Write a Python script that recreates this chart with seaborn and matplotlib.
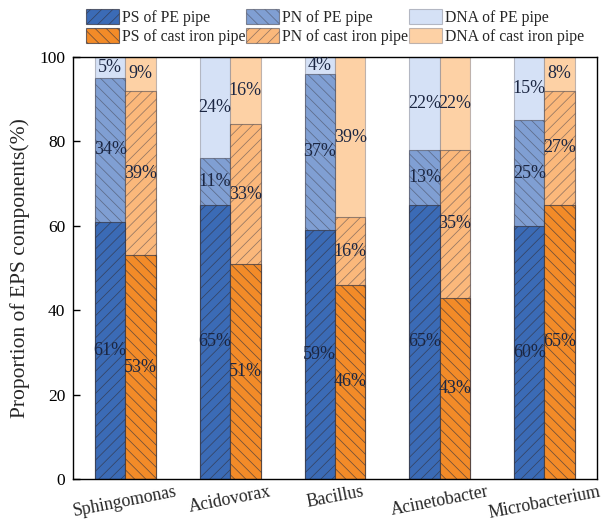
import numpy as np
import pandas as pd
import matplotlib
matplotlib.use("Agg")
import matplotlib.pyplot as plt
import seaborn as sns
from matplotlib.patches import Patch

genera = ["Sphingomonas", "Acidovorax", "Bacillus", "Acinetobacter", "Microbacterium"]
pipes = ["PE pipe", "cast iron pipe"]

ps_pe = [61, 65, 59, 65, 60]
pn_pe = [34, 11, 37, 13, 25]
dna_pe = [5, 24, 4, 22, 15]

ps_ci = [53, 51, 46, 43, 65]
pn_ci = [39, 33, 16, 35, 27]
dna_ci = [9, 16, 39, 22, 8]

yticks = [0, 20, 40, 60, 80, 100]

colors = {
    ("PS", "PE pipe"): "#3b6bb6",
    ("PN", "PE pipe"): "#809fd3",
    ("DNA", "PE pipe"): "#d5e1f6",
    ("PS", "cast iron pipe"): "#f38b28",
    ("PN", "cast iron pipe"): "#fbb87b",
    ("DNA", "cast iron pipe"): "#fdd1a5",
}
hatches = {
    ("PS", "PE pipe"): "///",
    ("PN", "PE pipe"): "\\\\\\",
    ("DNA", "PE pipe"): "",
    ("PS", "cast iron pipe"): "\\\\\\",
    ("PN", "cast iron pipe"): "///",
    ("DNA", "cast iron pipe"): "",
}
edges = {
    "PS": (0.2, 0.2, 0.25, 0.7),
    "PN": (0.25, 0.25, 0.3, 0.55),
    "DNA": (0.45, 0.45, 0.5, 0.45),
}

sns.set_style("ticks")
plt.rcParams["font.family"] = ["Liberation Serif", "DejaVu Serif"]
plt.rcParams["hatch.linewidth"] = 0.55

# long table
rows = []
for i, g in enumerate(genera):
    for pipe, ps, pn, dna in [("PE pipe", ps_pe, pn_pe, dna_pe),
                              ("cast iron pipe", ps_ci, pn_ci, dna_ci)]:
        rows.append(dict(genus=g, pipe=pipe, PS=ps[i], PN=pn[i], DNA=dna[i]))
df = pd.DataFrame(rows)
df["top_PS"] = df["PS"]
df["top_PN"] = df["PS"] + df["PN"]
df["top_DNA"] = df["PS"] + df["PN"] + df["DNA"]

fig = plt.figure(figsize=(6.09, 5.22), dpi=100)
ax = fig.add_axes([0.120, 0.0824, 0.860, 0.8085])

for comp in ["DNA", "PN", "PS"]:
    n0 = len(ax.containers)
    sns.barplot(data=df, x="genus", y="top_" + comp, hue="pipe",
                hue_order=pipes, order=genera,
                palette=[colors[(comp, p)] for p in pipes],
                width=0.58, saturation=1, legend=False, ax=ax,
                edgecolor=edges[comp], linewidth=0.8, errorbar=None)
    for cont, p in zip(ax.containers[n0:], pipes):
        for bar in cont:
            bar.set_hatch(hatches[(comp, p)])

# percentage labels
label_color = "#1b2642"
for ci, p in enumerate(pipes):
    sub = df[df["pipe"] == p].set_index("genus").loc[genera]
    for gi, g in enumerate(genera):
        xc = gi + (-0.145 if ci == 0 else 0.145)
        base = 0
        for comp in ["PS", "PN", "DNA"]:
            v = sub.loc[g, comp]
            top = min(base + v, 100)
            yc = (base + top) / 2
            ax.text(xc, yc, f"{v}%", ha="center", va="center",
                    fontsize=13, color=label_color)
            base += v

ax.set_xlim(-0.5, 4.5)
ax.set_ylim(0, 100)
ax.set_yticks(yticks)
ax.set_yticklabels([str(t) for t in yticks], fontsize=12.5)
ax.tick_params(axis="y", direction="in", length=5, width=1, pad=5.5, colors="black")
ax.tick_params(axis="x", length=0, pad=3)
ax.set_xticks(range(len(genera)))
ax.set_xticklabels(genera, rotation=11, fontsize=12.8, ha="center")
ax.set_xlabel("")
ax.set_ylabel("Proportion of EPS components(%)", fontsize=15.5, labelpad=7)
for s in ax.spines.values():
    s.set_visible(True)
    s.set_color("black")
    s.set_linewidth(1.0)

handles = []
labels = []
for comp in ["PS", "PN", "DNA"]:
    for p in pipes:
        handles.append(Patch(facecolor=colors[(comp, p)], hatch=hatches[(comp, p)],
                             edgecolor=edges[comp], linewidth=0.8))
        labels.append(f"{comp} of {p}")
fig.legend(handles, labels, ncol=3, loc="upper left",
           bbox_to_anchor=(0.141, 0.983), frameon=False, fontsize=11.3,
           handlelength=2.1, handleheight=1.15, handletextpad=0.2,
           columnspacing=0.05, labelspacing=0.1, borderpad=0, borderaxespad=0)

fig.savefig("out.png", dpi=100)
